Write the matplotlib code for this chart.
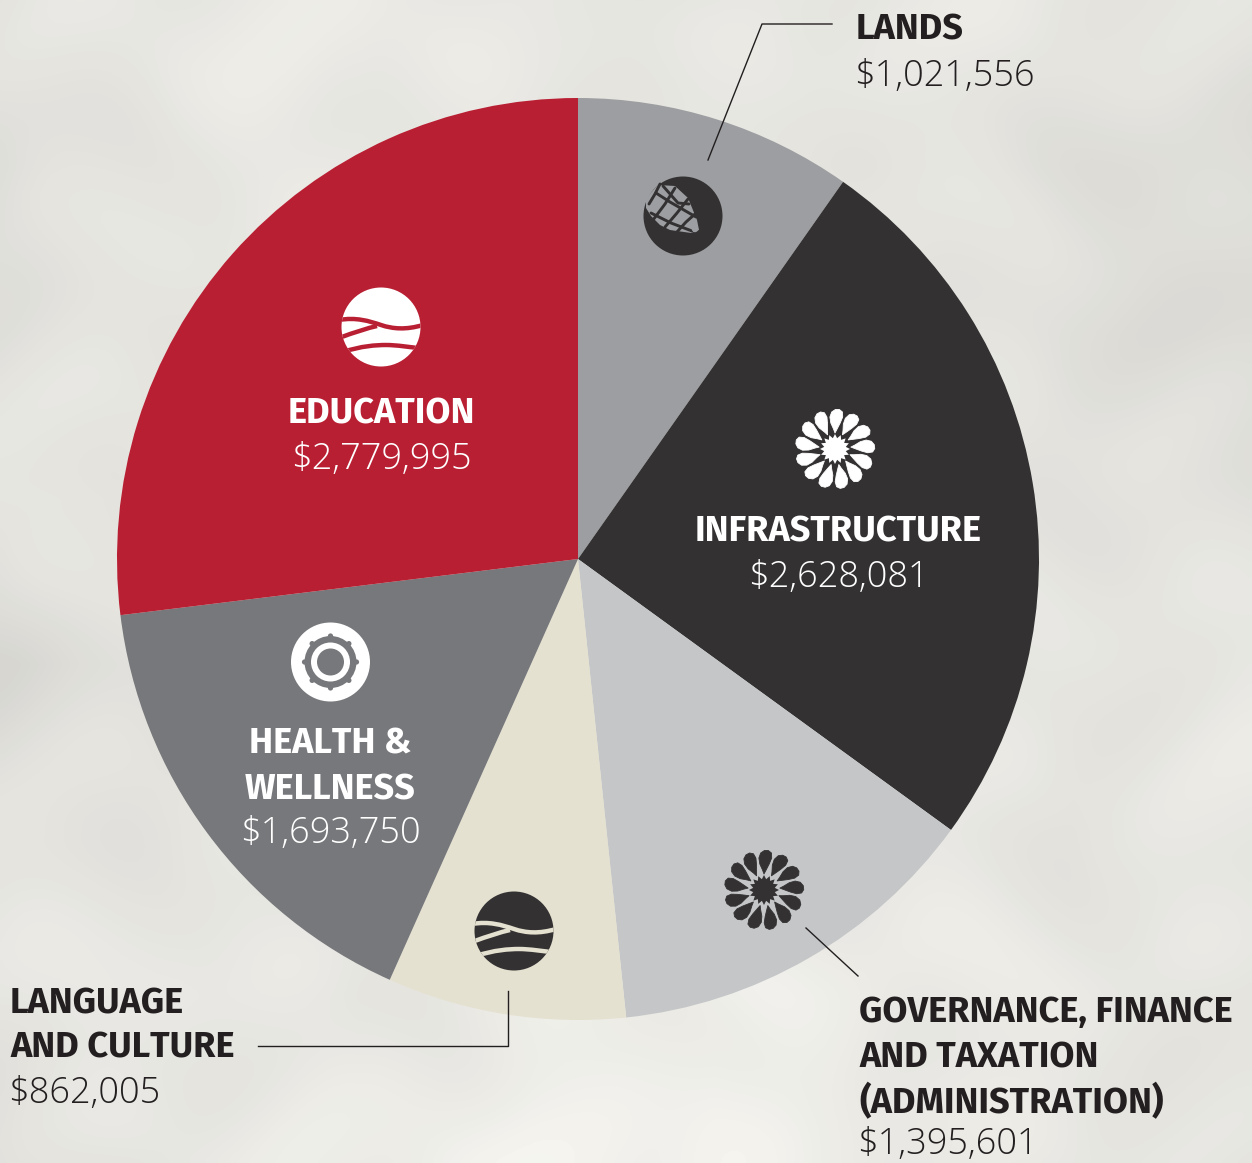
"""Funding by program area: pie chart on a stone-coloured background."""

import numpy as np
import matplotlib

matplotlib.use("Agg")
import matplotlib.pyplot as plt
from matplotlib.patches import Circle, PathPatch, Polygon
from matplotlib.path import Path

WIDTH = 1252
HEIGHT = 1163

categories = ["Lands", "Infrastructure", "Governance", "Language", "Health", "Education"]
amounts = [1021556, 2628081, 1395601, 862005, 1693750, 2779995]
# the drawn slices are not quite proportional to the printed amounts: degrees
slice_degrees = [35.1, 90.9, 48.0, 30.1, 58.9, 97.0]
slice_colors = ["#9D9EA1", "#333132", "#C4C6C8", "#E5E1D0", "#77787B", "#B91F33"]

# rough stone tones read off the backdrop, top row first
backdrop_tones = [
    [226, 232, 234, 230, 228, 232, 230, 226],
    [220, 230, 232, 228, 230, 228, 222, 218],
    [224, 228, 230, 228, 228, 230, 222, 216],
    [228, 230, 228, 230, 230, 228, 226, 224],
    [214, 226, 230, 228, 230, 230, 228, 230],
    [226, 226, 230, 228, 230, 232, 226, 232],
    [230, 232, 228, 234, 238, 234, 232, 226],
    [222, 230, 236, 242, 242, 232, 230, 226],
]

DARK = "#231F20"
BOLD = {"family": ["Fira Sans", "Liberation Sans"], "fontweight": "bold", "fontsize": 26}
LIGHT = {"family": ["Open Sans", "Noto Sans"], "fontweight": "light", "fontsize": 26}


def money(value):
    return f"${value:,}"


def stone_backdrop():
    """Upsample the tone grid and add a faint mottling so it doesn't look airbrushed."""
    tones = np.array(backdrop_tones, dtype=float)
    xs = np.linspace(0, tones.shape[1] - 1, WIDTH // 4)
    ys = np.linspace(0, tones.shape[0] - 1, HEIGHT // 4)
    rows = np.array([np.interp(xs, np.arange(tones.shape[1]), row) for row in tones])
    grid = np.array([np.interp(ys, np.arange(tones.shape[0]), col) for col in rows.T]).T
    px, py = np.meshgrid(np.arange(grid.shape[1]) * 4.0, np.arange(grid.shape[0]) * 4.0)
    grid += 2.2 * np.sin(px / 37 + 1.3 * np.sin(py / 61)) + 1.8 * np.sin(py / 29 + 1.1 * np.sin(px / 47))
    return grid


def draw_label(ax, x, baselines, lines, amount, color, ha, value_gap=45, value_x=None):
    for line, y in zip(lines, baselines):
        ax.text(x, y, line, color=color, ha=ha, va="baseline", zorder=6, **BOLD)
    ax.text(x if value_x is None else value_x, baselines[-1] + value_gap, money(amount),
            color=color, ha=ha, va="baseline", zorder=6, **LIGHT)


def draw_waves(ax, cx, cy, fg, bg):
    disc = Circle((cx, cy), 39.5, fc=fg, ec="none", zorder=4)
    ax.add_patch(disc)
    two_part = [Path.MOVETO] + [Path.CURVE4] * 6
    curves = [
        ([(-42, -7), (-25, -10), (-12, -6), (0, -2), (12, 2), (25, 3), (42, -2)], two_part),
        ([(-4, -1), (-18, 2), (-42, 11)], [Path.MOVETO, Path.CURVE3, Path.CURVE3]),
        ([(-38, 25), (-20, 19), (-5, 18), (5, 18), (15, 18), (30, 20), (42, 22)], two_part),
    ]
    for points, codes in curves:
        verts = [(cx + a, cy + b) for a, b in points]
        line = PathPatch(Path(verts, codes), fc="none", ec=bg, lw=3.2, zorder=5)
        ax.add_patch(line)
        line.set_clip_path(disc)


def draw_flower(ax, cx, cy, color):
    base = np.array([
        [0.0, -16], [-1.8, -20], [-5.0, -26], [-6.4, -32], [-5.0, -37], [-1.5, -39.5],
        [2.5, -39.5], [5.8, -37], [6.4, -32], [4.4, -26], [1.8, -20],
    ])
    for k in range(13):
        angle = 2 * np.pi * k / 13
        c, s = np.cos(angle), np.sin(angle)
        # petals lean a little clockwise
        lean = base[:, 0] + 0.08 * (-base[:, 1] - 16)
        pts = np.column_stack((cx + lean * c - base[:, 1] * s, cy + lean * s + base[:, 1] * c))
        ax.add_patch(Polygon(pts, closed=True, fc=color, ec=color, lw=0.6, zorder=5, joinstyle="round"))
    theta = np.linspace(0, 2 * np.pi, 33)[:-1]
    radius = np.where(np.arange(32) % 2 == 0, 15.0, 11.0)
    star = np.column_stack((cx + radius * np.cos(theta), cy + radius * np.sin(theta)))
    ax.add_patch(Polygon(star, closed=True, fc=color, ec="none", zorder=5))


def draw_gear(ax, cx, cy, fg, bg):
    ax.add_patch(Circle((cx, cy), 39.5, fc=fg, ec="none", zorder=4))
    ax.add_patch(Circle((cx, cy), 26, fc=bg, ec="none", zorder=5))
    for k in range(8):
        angle = k * np.pi / 4
        ax.add_patch(Circle((cx + 26 * np.cos(angle), cy + 26 * np.sin(angle)), 2.6, fc=bg, ec="none", zorder=5))
    ax.add_patch(Circle((cx, cy), 19.5, fc=fg, ec="none", zorder=6))
    ax.add_patch(Circle((cx, cy), 13.5, fc=bg, ec="none", zorder=7))


def draw_cone(ax, cx, cy, fg, bg):
    ax.add_patch(Circle((cx, cy), 39.5, fc=fg, ec="none", zorder=4))
    outline = [(-37, -18), (-25, -31), (-8, -30), (5, -18), (14, 4), (16, 14), (8, 17), (-13, 14), (-23, 9), (-32, 0), (-37, -8)]
    ax.add_patch(Polygon([(cx + a, cy + b) for a, b in outline], closed=True, fc=bg, ec="none", zorder=5))
    hatch = [
        [(-8, -28), (-18, -12), (-30, 4)], [(5, -17), (-6, -3), (-18, 11)], [(12, -2), (3, 6), (-7, 17)],
        [(-23, -32), (-28, -22), (-34, -12)],
        [(-27, -23), (-13, -14), (13, 1)], [(-32, -3), (-12, 7), (9, 15)], [(-20, -30), (-5, -13), (6, -12)],
    ]
    for seg in hatch:
        xs = [cx + a for a, _ in seg]
        ys = [cy + b for _, b in seg]
        ax.plot(xs, ys, color=fg, lw=2.1, solid_capstyle="round", zorder=6)
    ax.add_patch(Circle((cx + 12, cy + 13), 3.2, fc=bg, ec="none", zorder=7))


def main():
    fig = plt.figure(figsize=(WIDTH / 100, HEIGHT / 100), dpi=100)
    ax = fig.add_axes([0, 0, 1, 1])

    ax.imshow(stone_backdrop(), cmap="gray", vmin=0, vmax=255,
              extent=(0, WIDTH, HEIGHT, 0), interpolation="bicubic", zorder=0)
    ax.add_patch(plt.Rectangle((0, 0), WIDTH, HEIGHT, fc="#F5EFC8", alpha=0.12, ec="none", zorder=1))

    # y axis runs downward, so counterclock here reads clockwise on the page
    ax.pie(slice_degrees, colors=slice_colors, center=(578, 559), radius=461, startangle=-90, counterclock=True,
           frame=True, wedgeprops={"linewidth": 0, "zorder": 3})
    ax.set_xlim(0, WIDTH)
    ax.set_ylim(HEIGHT, 0)
    ax.set_aspect("equal")
    ax.axis("off")

    draw_label(ax, 381, [424], ["EDUCATION"], amounts[5], "white", "center")
    draw_label(ax, 838, [542], ["INFRASTRUCTURE"], amounts[1], "white", "center")
    draw_label(ax, 330, [754, 799], ["HEALTH &", "WELLNESS"], amounts[4], "white", "center", value_gap=44)
    draw_label(ax, 856, [40], ["LANDS"], amounts[0], DARK, "left", value_gap=46, value_x=854)
    draw_label(ax, 10, [1013, 1057], ["LANGUAGE", "AND CULTURE"], amounts[3], DARK, "left", value_gap=46, value_x=8)
    # value sits as low as it can without its descent leaving the page
    draw_label(ax, 859, [1022, 1067, 1113], ["GOVERNANCE, FINANCE", "AND TAXATION", "(ADMINISTRATION)"],
               amounts[2], DARK, "left", value_gap=41, value_x=857)

    leaders = [
        ([832, 762, 708], [24, 24, 160]),
        ([508, 508, 258], [991, 1046, 1046]),
        ([806, 858], [928, 976]),
    ]
    for xs, ys in leaders:
        ax.plot(xs, ys, color=DARK, lw=1.0, zorder=6)

    draw_cone(ax, 683, 216, "#333132", "#9D9EA1")
    draw_flower(ax, 835, 449, "white")
    draw_flower(ax, 764, 890, "#333132")
    draw_waves(ax, 381, 327, "white", "#B91F33")
    draw_waves(ax, 514, 931, "#333132", "#E5E1D0")
    draw_gear(ax, 330.5, 662, "white", "#77787B")

    fig.savefig("out.png", dpi=100)
    plt.close(fig)


if __name__ == "__main__":
    main()
